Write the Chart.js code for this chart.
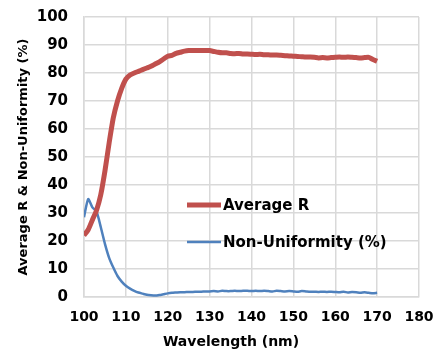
<!DOCTYPE html>
<html>
<head>
<meta charset="utf-8">
<script src="https://cdn.jsdelivr.net/npm/chart.js@4/dist/chart.umd.min.js"></script>
<style>
  html, body { margin: 0; padding: 0; background: #fff; }
  #wrap { width: 442px; height: 349px; }
</style>
</head>
<body>
<div id="wrap"><canvas id="reflChart"></canvas></div>
<script>
const wavelength = [
  100, 101, 102, 103, 104, 105, 106, 107, 108, 109,
  110, 111, 112, 113, 114, 115, 116, 117, 118, 119,
  120, 121, 122, 123, 124, 125, 126, 127, 128, 129,
  130, 131, 132, 133, 134, 135, 136, 137, 138, 139,
  140, 141, 142, 143, 144, 145, 146, 147, 148, 149,
  150, 151, 152, 153, 154, 155, 156, 157, 158, 159,
  160, 161, 162, 163, 164, 165, 166, 167, 168, 169, 170
];

const averageR = [
  22, 24, 27.5, 31, 36.5, 45, 55, 64, 70, 74.5,
  77.8, 79.3, 80, 80.6, 81.2, 81.8, 82.4, 83.2, 84, 85,
  86, 86.3, 87, 87.4, 87.8, 88, 88, 88, 88, 88,
  88, 87.7, 87.4, 87.2, 87.2, 87, 86.9, 87, 86.8, 86.8,
  86.7, 86.6, 86.7, 86.5, 86.5, 86.4, 86.4, 86.3, 86.2, 86.1,
  86, 85.9, 85.8, 85.7, 85.7, 85.6, 85.4, 85.5, 85.4, 85.5,
  85.6, 85.7, 85.6, 85.7, 85.6, 85.5, 85.4, 85.5, 85.6, 84.8, 84.2
];

const nonUniformity = [
  28.5, 35, 32, 30.5, 25, 19, 14, 10.5, 7.5, 5.5,
  4, 3, 2.2, 1.6, 1.2, 0.8, 0.6, 0.5, 0.7, 1,
  1.3, 1.5, 1.6, 1.7, 1.7, 1.8, 1.8, 1.9, 1.9, 2,
  2, 2.1, 2, 2.2, 2.1, 2.1, 2.2, 2.1, 2.2, 2.2,
  2.1, 2.2, 2.1, 2.2, 2.1, 2, 2.2, 2.1, 2, 2.1,
  2, 1.9, 2.1, 2, 1.9, 1.9, 1.8, 1.9, 1.8, 1.9,
  1.8, 1.7, 1.9, 1.6, 1.8, 1.7, 1.5, 1.7, 1.5, 1.3, 1.5
];

const xTicks = [100, 110, 120, 130, 140, 150, 160, 170, 180];
const yTicks = [0, 10, 20, 30, 40, 50, 60, 70, 80, 90, 100];

const fontFamily = "'DejaVu Sans', Verdana, sans-serif";
const gridColor = "#d9d9d9";

function toPoints(xs, ys) {
  return xs.map((x, i) => ({ x: x, y: ys[i] }));
}

// Legend sits inside the plot, so it is drawn by hand
const insideLegend = {
  id: "insideLegend",
  afterDatasetsDraw(chart) {
    const ctx = chart.ctx;
    const x0 = 187, x1 = 221;
    const rows = [205, 242];
    ctx.save();
    chart.data.datasets.forEach((ds, i) => {
      const y = rows[i];
      ctx.strokeStyle = ds.borderColor;
      ctx.lineWidth = ds.borderWidth;
      ctx.beginPath();
      ctx.moveTo(x0, y);
      ctx.lineTo(x1, y);
      ctx.stroke();
      ctx.fillStyle = "#000";
      ctx.font = "bold 15px " + fontFamily;
      ctx.textBaseline = "middle";
      ctx.textAlign = "left";
      ctx.fillText(ds.label, x1 + 2, y + 1);
    });
    ctx.restore();
  },
};

// X axis title, centred a little left of the plot centre
const xTitle = {
  id: "xTitle",
  afterDraw(chart) {
    const ctx = chart.ctx;
    ctx.save();
    ctx.fillStyle = "#000";
    ctx.font = "bold 14px " + fontFamily;
    ctx.textAlign = "center";
    ctx.textBaseline = "middle";
    ctx.fillText("Wavelength (nm)", 231, 342);
    ctx.restore();
  },
};

new Chart(document.getElementById("reflChart"), {
  type: "line",
  data: {
    datasets: [
      {
        label: "Average R",
        data: toPoints(wavelength, averageR),
        borderColor: "#c0504d",
        borderWidth: 5,
        pointRadius: 0,
        tension: 0.2,
      },
      {
        label: "Non-Uniformity (%)",
        data: toPoints(wavelength, nonUniformity),
        borderColor: "#4f81bd",
        borderWidth: 2.5,
        pointRadius: 0,
        tension: 0.2,
      },
    ],
  },
  options: {
    responsive: true,
    maintainAspectRatio: false,
    animation: false,
    layout: { padding: { left: 16, right: 23, top: 17, bottom: 0 } },
    plugins: {
      legend: { display: false },
      tooltip: { enabled: false },
    },
    scales: {
      x: {
        type: "linear",
        min: 100,
        max: 180,
        afterBuildTicks: (axis) => {
          axis.ticks = xTicks.map((v) => ({ value: v }));
        },
        afterFit: (axis) => {
          axis.height = 52;
          axis.paddingLeft = 0;
          axis.paddingRight = 0;
        },
        grid: { color: gridColor, lineWidth: 1.5, drawTicks: false },
        border: { color: gridColor, width: 1.5 },
        ticks: {
          padding: 12,
          color: "#000",
          font: { family: fontFamily, size: 14, weight: "bold" },
          maxRotation: 0,
        },
      },
      y: {
        min: 0,
        max: 100,
        afterBuildTicks: (axis) => {
          axis.ticks = yTicks.map((v) => ({ value: v }));
        },
        afterFit: (axis) => {
          axis.width = 68;
          axis.paddingTop = 0;
          axis.paddingBottom = 0;
        },
        grid: { color: gridColor, lineWidth: 1.5, drawTicks: false },
        border: { color: gridColor, width: 1.5 },
        ticks: {
          padding: 16,
          color: "#000",
          font: { family: fontFamily, size: 15, weight: "bold" },
        },
        title: {
          display: true,
          text: "Average R & Non-Uniformity (%)",
          color: "#000",
          padding: { top: 0, bottom: 4 },
          font: { family: fontFamily, size: 13, weight: "bold" },
        },
      },
    },
  },
  plugins: [insideLegend, xTitle],
});
</script>
</body>
</html>
